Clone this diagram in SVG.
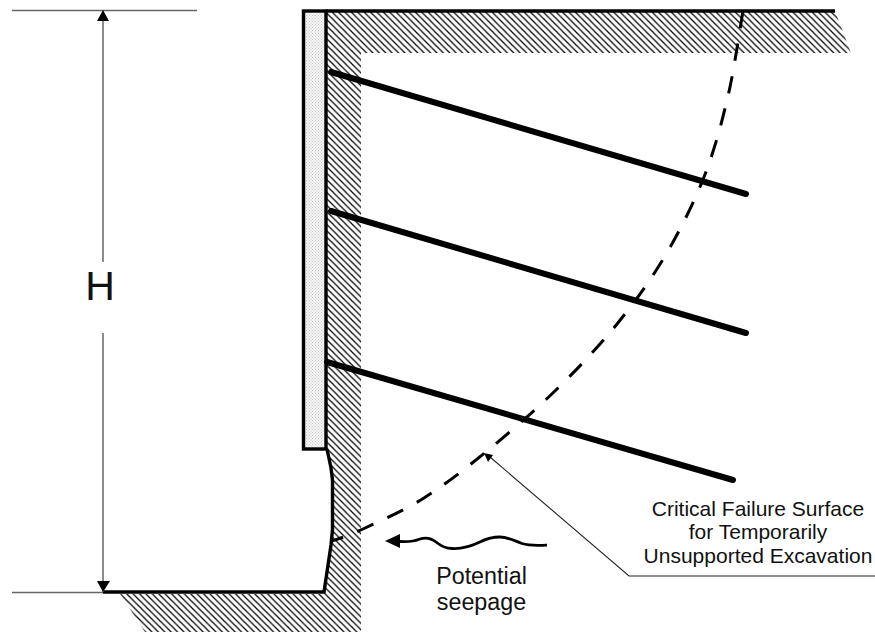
<svg xmlns="http://www.w3.org/2000/svg" width="875" height="634" viewBox="0 0 875 634">
<style>
text{font-family:"Liberation Sans",Arial,sans-serif;fill:#111;text-anchor:middle}
.thick{fill:none;stroke:#000;stroke-width:3.4}
.tie{fill:none;stroke:#000;stroke-width:6;stroke-linecap:round}
.dim{fill:none;stroke:#666;stroke-width:1.5}
</style>
<defs>
<pattern id="hatch" patternUnits="userSpaceOnUse" width="6.4" height="6.4">
<path d="M-1.6 -1.6L8 8M-1.6 4.8L1.6 8M4.8 -1.6L8 1.6" stroke="#000" stroke-width="1.25" fill="none"/>
</pattern>
<pattern id="dots" patternUnits="userSpaceOnUse" width="3" height="3">
<rect width="3" height="3" fill="#f6f6f6"/>
<rect width="1" height="1" fill="#c4c4c4"/>
<rect x="1.5" y="1.5" width="1" height="1" fill="#c4c4c4"/>
</pattern>
</defs>
<g id="soil">
<path d="M326 11H835L851 53H361V632H145L120 594H324L331 543L332 530V472L327 449V11Z" fill="url(#hatch)"/>
</g>
<g id="wall">
<rect x="303.500" y="11" width="22.500" height="438" fill="url(#dots)" stroke="#000" stroke-width="3.400"/>
</g>
<g id="ground">
<path class="thick" d="M326 11H835"/>
<path class="thick" d="M327 449L331 468L332.500 480V530L331 545L324 592H103"/>
</g>
<g id="ties">
<path class="tie" d="M331 72L746 194"/>
<path class="tie" d="M331 211L746 333"/>
<path class="tie" d="M327 362L733 480"/>
</g>
<g id="connectors">
<path d="M743 11C740.500 25 734.500 68.300 728 96C721.500 123.700 714.500 150.300 704 177C693.500 203.700 679.500 231.500 665 256C650.500 280.500 635 301.800 617 324C599 346.200 578.700 367.800 557 389C535.300 410.200 509.200 432.800 487 451C464.800 469.200 444.700 485 424 498C403.300 511 378.300 521.800 363 529C347.700 536.200 338 539 332 541" fill="none" stroke="#000" stroke-width="3" stroke-dasharray="17.500 15.500"/>
<path d="M490 457L629 576H875" fill="none" stroke="#222" stroke-width="1.100"/>
<path d="M484 453L493 455L488 462Z" fill="#000"/>
<path d="M400 541.500C408 542 414 541.500 420 539C426 537 431 538 436 542C441 546 445 548.500 452 548.500C462 549 472 546 481 541.500C488 538 494 537 500 537C508 537 515 541 522 543.500C530 546 538 545.500 547 545" fill="none" stroke="#000" stroke-width="2.800"/>
<path d="M385 541L400 534V548Z" fill="#000"/>
<path class="dim" d="M12 10.500H197M12 592.500H103M103 10V262M103 333V592"/>
<path d="M103 10L109 21H97Z" fill="#000"/>
<path d="M103 592L97 581H110Z" fill="#000"/>
</g>
<g id="labels">
<text x="100" y="300" font-size="41">H</text>
<text x="481.500" y="584" font-size="23.300">Potential</text>
<text x="481.500" y="610" font-size="23.300">seepage</text>
<text x="758" y="515.500" font-size="21">Critical Failure Surface</text>
<text x="758" y="539" font-size="21">for Temporarily</text>
<text x="758" y="563" font-size="21">Unsupported Excavation</text>
</g>
</svg>
